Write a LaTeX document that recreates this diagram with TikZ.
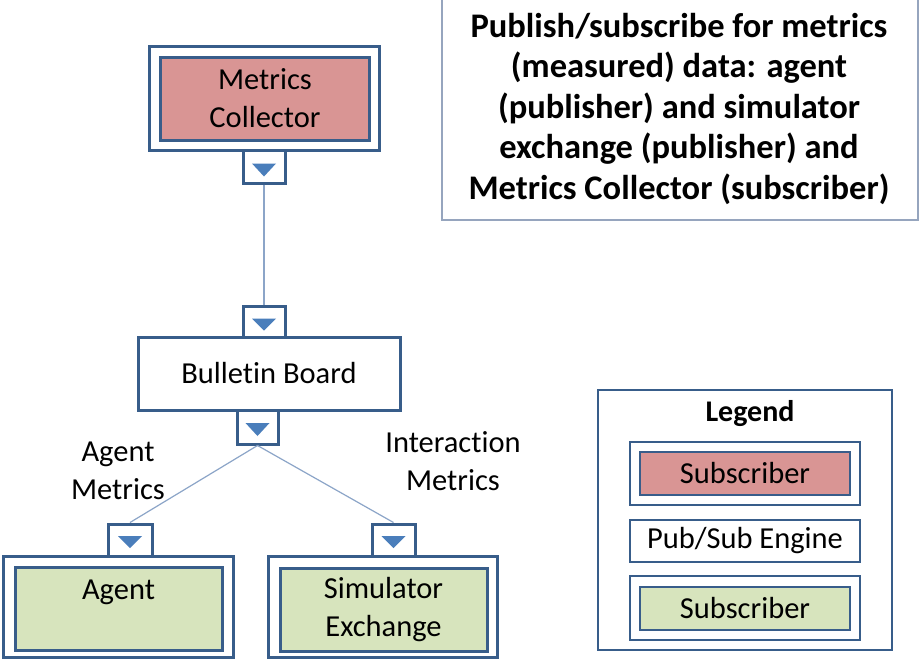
\documentclass[tikz,border=0pt]{standalone}
\usepackage{fontspec}
\setmainfont{Carlito}[Ligatures=NoCommon]
\definecolor{bord}{RGB}{56,93,138}
\definecolor{pinkf}{RGB}{217,149,148}
\definecolor{greenf}{RGB}{215,228,189}
\definecolor{trif}{RGB}{74,126,187}
\definecolor{connc}{RGB}{140,165,200}
\definecolor{titleb}{RGB}{150,165,190}
\begin{document}
\begin{tikzpicture}[x=1pt,y=-1pt,
  every node/.style={font=\fontsize{30.5}{38}\selectfont, inner sep=0pt, align=center},
  outerbox/.style={draw=bord, line width=3pt, fill=white},
  innerbox/.style={draw=bord, line width=3pt},
  legbox/.style={draw=bord, line width=2.5pt, fill=white},
  portbox/.style={draw=bord, line width=3pt, fill=white, minimum width=42pt, minimum height=33pt},
  connline/.style={draw=connc, line width=1.2pt},
  tri/.style={fill=trif}]
\useasboundingbox (0,0) rectangle (920,662);
\fill[white] (0,0) rectangle (920,662);

% title box
\node[draw=titleb, line width=1.5pt, minimum width=476pt, minimum height=226pt] (tb) at (680,107) {};
\node[font=\fontsize{34.5}{40.5}\selectfont\bfseries] (tt) at (679,109)
  {Publish/subscribe for metrics\\(measured) data: agent\\(publisher) and simulator\\exchange (publisher) and\\Metrics Collector (subscriber)};

% Metrics Collector
\node[outerbox, minimum width=230pt, minimum height=104pt] (mco) at (264,98) {};
\node[innerbox, fill=pinkf, minimum width=209pt, minimum height=83pt] (mc) at (265,98.5) {Metrics\\Collector};
\node[portbox] (mcp) at (264,166.5) {};
\fill[tri] ([shift={(-12,-3)}]mcp.center) -- ([shift={(12,-3)}]mcp.center) -- ([shift={(0,10)}]mcp.center) -- cycle;

% Bulletin Board
\node[portbox, minimum height=31pt] (bbt) at (264,321.5) {};
\fill[tri] ([shift={(-12,-3)}]bbt.center) -- ([shift={(12,-3)}]bbt.center) -- ([shift={(0,9)}]bbt.center) -- cycle;
\node[outerbox, minimum width=262pt, minimum height=73pt] (bb) at (269,373.5) {Bulletin Board};
\node[portbox, minimum width=41pt, minimum height=34pt] (bbp) at (257.5,427) {};
\fill[tri] ([shift={(-12,-4)}]bbp.center) -- ([shift={(12,-4)}]bbp.center) -- ([shift={(0,9)}]bbp.center) -- cycle;

% Agent
\node[portbox, minimum width=44pt, minimum height=32pt] (agp) at (130,540) {};
\fill[tri] ([shift={(-12,-4)}]agp.center) -- ([shift={(12,-4)}]agp.center) -- ([shift={(0,8)}]agp.center) -- cycle;
\node[outerbox, minimum width=230pt, minimum height=101pt] (ago) at (118,606.5) {};
\node[innerbox, fill=greenf, minimum width=207pt, minimum height=83pt] (ag) at (118.5,608.5) {Agent\\\phantom{A}};

% Simulator Exchange
\node[portbox, minimum width=43pt, minimum height=32pt] (sxp) at (393.5,540) {};
\fill[tri] ([shift={(-12,-4)}]sxp.center) -- ([shift={(12,-4)}]sxp.center) -- ([shift={(0,8)}]sxp.center) -- cycle;
\node[outerbox, minimum width=229pt, minimum height=101pt] (sxo) at (383,606.5) {};
\node[innerbox, fill=greenf, minimum width=207pt, minimum height=83pt] (sx) at (383.5,609.5) {Simulator\\Exchange};

% connectors
\draw[connline] (mcp.south) -- (bbt.north);
\draw[connline] (bbp.south) -- (agp.north);
\draw[connline] (bbp.south) -- (sxp.north);

% labels
\node (la1) at (118,471) {Agent\\Metrics};
\node (la2) at (453,461) {Interaction\\Metrics};

% legend
\node[draw=bord, line width=2.5pt, minimum width=294pt, minimum height=260pt] (leg) at (745,520) {};
\node[font=\fontsize{30}{34}\selectfont\bfseries] (legt) at (750,414) {Legend};
\node[legbox, minimum width=230pt, minimum height=63pt] (l1o) at (745,473.5) {};
\node[legbox, fill=pinkf, minimum width=210pt, minimum height=43pt] (l1) at (745,473.5) {Subscriber};
\node[legbox, minimum width=230pt, minimum height=42pt] (l2) at (745,541) {Pub/Sub Engine};
\node[legbox, minimum width=230pt, minimum height=64pt] (l3o) at (745,608) {};
\node[legbox, fill=greenf, minimum width=210pt, minimum height=43pt] (l3) at (745,608.5) {Subscriber};
\end{tikzpicture}
\end{document}
